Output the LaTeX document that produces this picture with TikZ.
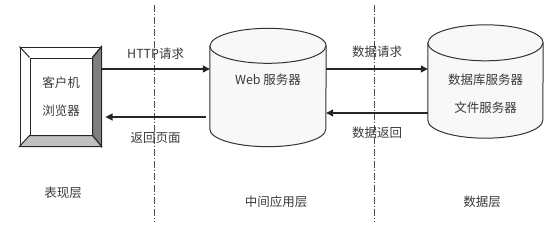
\documentclass[tikz,border=0pt]{standalone}
\usepackage{fontspec}
\setmainfont{Noto Sans CJK SC}
\definecolor{inkgray}{HTML}{3A3A3A}
\definecolor{darkbevel}{HTML}{7F7F7F}
\definecolor{lightbevel}{HTML}{C0C0C0}
\definecolor{storefill}{HTML}{F8F8F8}
\usetikzlibrary{arrows.meta, calc}
\tikzset{
  lbl/.style={font=\fontsize{12.5}{14}\selectfont, text=inkgray},
  arr/.style={-{Triangle[length=7pt,width=7pt]}, line width=1.1pt, color=black!85},
  tierline/.style={dash pattern=on 7pt off 2pt on 1pt off 2pt, line width=0.9pt, color=black!70},
  storeline/.style={draw=black!80, line width=1pt, fill=storefill},
  frame/.style={draw=black!85, line width=1pt, inner sep=0pt},
}

\begin{document}
\begin{tikzpicture}[x=1pt, y=1pt]
  \useasboundingbox (0,0) rectangle (560,226);

  % Tier borders
  \draw[tierline] (154,221) -- (154,4);
  \draw[tierline] (374,221) -- (374,4);

  % Client
  \node[frame, minimum width=81pt, minimum height=99pt] (client) at (60.5,129.5) {};
  \node[frame, minimum width=62pt, minimum height=77pt, align=center, lbl,
        font=\fontsize{12.5}{28}\selectfont] (browser) at (61,129.5) {客户机\\浏览器};
  \filldraw[frame, fill=darkbevel] (client.north east) -- (client.south east)
    -- (browser.south east) -- (browser.north east) -- cycle;
  \filldraw[frame, fill=lightbevel] (client.south west) -- (client.south east)
    -- (browser.south east) -- (browser.south west) -- cycle;
  \draw[frame] (client.north west) -- (browser.north west);
  \draw[frame] (client.north east) -- (browser.north east);

  % Web server
  \node[minimum width=116pt, minimum height=83pt, inner sep=0pt] (web) at (268,138.5) {};
  \filldraw[storeline] (web.north west) -- (web.south west)
    arc[start angle=180, end angle=360, x radius=58pt, y radius=17.5pt]
    -- (web.north east) arc[start angle=0, end angle=180, x radius=58pt, y radius=17.5pt] -- cycle;
  \draw[storeline] (web.north west) arc[start angle=180, end angle=360, x radius=58pt, y radius=17.5pt];
  \node[lbl] (webtext) at (268,146) {Web 服务器};

  % Database / file server
  \node[minimum width=115pt, minimum height=77pt, inner sep=0pt] (db) at (485.5,144.5) {};
  \filldraw[storeline] (db.north west) -- (db.south west)
    arc[start angle=180, end angle=360, x radius=57.5pt, y radius=18pt]
    -- (db.north east) arc[start angle=0, end angle=180, x radius=57.5pt, y radius=18pt] -- cycle;
  \draw[storeline] (db.north west) arc[start angle=180, end angle=360, x radius=57.5pt, y radius=18pt];
  \node[lbl, align=center, font=\fontsize{12.5}{28}\selectfont] (dbtext) at (485.5,132) {数据库服务器\\文件服务器};

  % Tier names
  \node[lbl] (pres) at (63,33) {表现层};
  \node[lbl] (mid) at (276,24) {中间应用层};
  \node[lbl] (data) at (482,24) {数据层};

  % Arrows
  \coordinate (upper) at (0,157);
  \coordinate (lowerA) at (0,109);
  \coordinate (lowerB) at (0,113);
  \draw[arr] (client.east |- upper) -- node[lbl, above=6pt] {HTTP请求} (web.west |- upper);
  \draw[arr] ([xshift=-4pt]web.west |- lowerA) -- node[lbl, below=11pt] {返回页面} ([xshift=4pt]client.east |- lowerA);
  \draw[arr] (web.east |- upper) -- node[lbl, above=8pt] {数据请求} (db.west |- upper);
  \draw[arr] (db.west |- lowerB) -- node[lbl, below=10pt] {数据返回} (web.east |- lowerB);
\end{tikzpicture}
\end{document}
